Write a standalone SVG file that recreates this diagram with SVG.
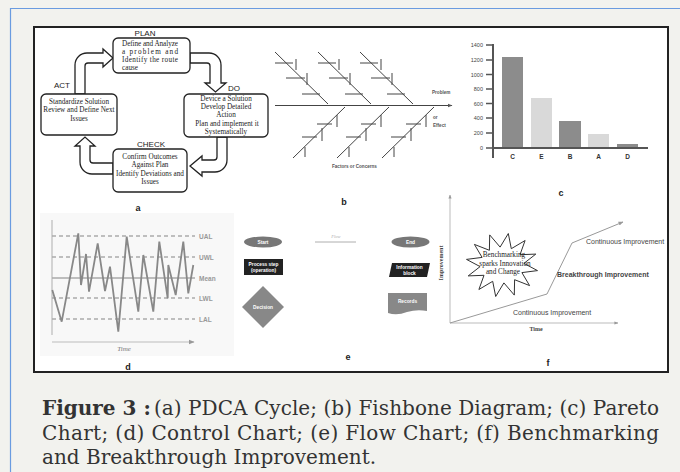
<svg xmlns="http://www.w3.org/2000/svg" width="680" height="472" viewBox="0 0 680 472">
<defs>
<style>
.bg{fill:#f2f2ee}
.box{fill:#fff;stroke:#222;stroke-width:1.3}
.harrow{fill:#fff;stroke:#222;stroke-width:1.3;stroke-linejoin:miter}
.lbl{font-family:"Liberation Sans",Arial,sans-serif;font-size:8px;fill:#222}
.bt{font-family:"Liberation Serif","Times New Roman",serif;font-size:7.2px;fill:#222}
.sub{font-family:"Liberation Sans",Arial,sans-serif;font-size:9px;font-weight:bold;fill:#222;text-anchor:middle}
.fb{stroke:#444;stroke-width:1;fill:none}
.fbt{font-family:"Liberation Sans",Arial,sans-serif;font-size:4.6px;font-weight:bold;fill:#555}
.ax{stroke:#555;stroke-width:2;fill:none}
.pt{font-family:"Liberation Sans",Arial,sans-serif;font-size:5.5px;fill:#444;text-anchor:end}
.px{font-family:"Liberation Sans",Arial,sans-serif;font-size:6.5px;font-weight:bold;fill:#333;text-anchor:middle}
.dark{fill:#8c8c8c}
.light{fill:#d9d9d9}
.cl{stroke:#aaa;stroke-width:1.3;stroke-dasharray:4 3;fill:none}
.cct{font-family:"Liberation Sans",Arial,sans-serif;font-size:6.5px;font-weight:bold;fill:#999}
.fct{font-family:"Liberation Sans",Arial,sans-serif;font-size:4.8px;font-weight:bold;fill:#fff;text-anchor:middle}
.ft{font-family:"Liberation Sans",Arial,sans-serif;font-size:7px;fill:#444}
.cap{font-family:"DejaVu Serif","Liberation Serif",serif;font-size:20px;fill:#333}
</style>
<marker id="ga" viewBox="0 0 10 10" refX="9" refY="5" markerWidth="5" markerHeight="5" orient="auto"><path d="M0 1 L10 5 L0 9 Z" fill="#999"/></marker>
<marker id="da" viewBox="0 0 10 10" refX="9" refY="5" markerWidth="5" markerHeight="5" orient="auto"><path d="M0 1 L10 5 L0 9 Z" fill="#555"/></marker>
</defs>
<rect class="bg" x="0" y="0" width="680" height="472"/>
<path d="M10.5 472 V8.5 H680" fill="none" stroke="#6a9be0" stroke-width="1.2"/>
<rect x="34" y="27" width="634" height="345" fill="#fff" stroke="#222" stroke-width="2"/>

<!-- (a) PDCA -->
<g id="connectors">
<path class="harrow" d="M190 53 H209 A12 12 0 0 1 221 65 V83 H226 L215.5 92 L205 83 H210 V66 A3 3 0 0 0 207 63 H190 Z"/>
<path class="harrow" d="M217 137 V157 A3 3 0 0 1 214 160 H202 V156 L190 166 L202 176 V172 H215 A12 12 0 0 0 227 160 V137 Z"/>
<path class="harrow" d="M113 163 H93 A3 3 0 0 1 90 160 V146 H95 L85 137 L75 146 H80 V162 A12 12 0 0 0 92 174 H113 Z"/>
<path class="harrow" d="M75 94 V65 A12 12 0 0 1 87 53 H103 V49 L113 58 L103 67 V63 H88 A3 3 0 0 0 85 66 V94 Z"/>
</g>
<g id="plan">
<text class="lbl" x="145" y="36" text-anchor="middle">PLAN</text>
<rect class="box" x="113" y="38" width="77" height="35" rx="5"/>
<text class="bt" x="122" y="46" textLength="56" lengthAdjust="spacing">Define and Analyze</text>
<text class="bt" x="122" y="54" textLength="56" lengthAdjust="spacing">a problem and</text>
<text class="bt" x="122" y="62" textLength="56" lengthAdjust="spacing">Identify the route</text>
<text class="bt" x="122" y="70">cause</text>
</g>
<g id="do">
<text class="lbl" x="228" y="91">DO</text>
<rect class="box" x="184" y="94" width="84" height="43" rx="5"/>
<text class="bt" x="226" y="101" text-anchor="middle">Device a Solution</text>
<text class="bt" x="226" y="109" text-anchor="middle">Develop Detailed</text>
<text class="bt" x="226" y="117" text-anchor="middle">Action</text>
<text class="bt" x="227" y="126" text-anchor="middle">Plan and implement it</text>
<text class="bt" x="226" y="134" text-anchor="middle">Systematically</text>
</g>
<g id="check">
<text class="lbl" x="151" y="147" text-anchor="middle">CHECK</text>
<rect class="box" x="113" y="149" width="74" height="43" rx="5"/>
<text class="bt" x="150" y="159" text-anchor="middle">Confirm Outcomes</text>
<text class="bt" x="150" y="167" text-anchor="middle">Against Plan</text>
<text class="bt" x="150" y="176" text-anchor="middle">Identify Deviations and</text>
<text class="bt" x="150" y="184" text-anchor="middle">Issues</text>
</g>
<g id="act">
<text class="lbl" x="62" y="88" text-anchor="middle">ACT</text>
<rect class="box" x="41" y="94" width="76" height="41" rx="5"/>
<text class="bt" x="79" y="104" text-anchor="middle">Standardize Solution</text>
<text class="bt" x="79" y="112" text-anchor="middle">Review and Define Next</text>
<text class="bt" x="79" y="121" text-anchor="middle">Issues</text>
</g>
<text class="sub" x="138" y="211">a</text>

<!-- (b) Fishbone -->
<g id="fishbone">
<line class="fb" x1="275" y1="105.5" x2="452" y2="105.5" marker-end="url(#da)"/>
<path class="fb" d="M275 52 L328 104 M275 63 H293 M296 59 V70 M286 78 H305 M307 73 V85 M302 94 H320"/>
<path class="fb" d="M318 52 L371 104 M318 63 H336 M339 59 V70 M329 78 H348 M350 73 V85 M345 94 H363"/>
<path class="fb" d="M360 52 L413 104 M360 63 H378 M381 59 V70 M371 78 H390 M392 73 V85 M387 94 H405"/>
<path class="fb" d="M293 158 L345 107 M317 124 H332 M337 115 V127 M302 137 H317 M322 128 V141 M305 147 V157"/>
<path class="fb" d="M337 158 L389 107 M361 124 H376 M381 115 V127 M346 137 H361 M366 128 V141 M349 147 V157"/>
<path class="fb" d="M382 158 L434 107 M406 124 H421 M426 115 V127 M391 137 H406 M411 128 V141 M394 147 V157"/>
<text class="fbt" x="432" y="94">Problem</text>
<text class="fbt" x="433" y="119">or</text>
<text class="fbt" x="433" y="127">Effect</text>
<text class="fbt" x="332" y="168">Factors or Concerns</text>
</g>
<text class="sub" x="344" y="205">b</text>

<!-- (c) Pareto -->
<g id="pareto">
<rect class="dark" x="502" y="57" width="21" height="91"/>
<rect class="light" x="531" y="98" width="21" height="50"/>
<rect class="dark" x="559" y="121" width="22" height="27"/>
<rect class="light" x="588" y="134" width="21" height="14"/>
<rect class="dark" x="617" y="144" width="21" height="4"/>
<path class="ax" d="M493 44 V158 M493 148 H648"/>
<path stroke="#555" stroke-width="1.5" d="M486 45 H493 M486 60 H493 M486 74.5 H493 M486 89 H493 M486 103.5 H493 M486 118 H493 M486 133 H493 M486 148 H493"/>
<text class="pt" x="483" y="47">1400</text>
<text class="pt" x="483" y="62">1200</text>
<text class="pt" x="483" y="76.5">1000</text>
<text class="pt" x="483" y="91">800</text>
<text class="pt" x="483" y="105.5">600</text>
<text class="pt" x="483" y="120">400</text>
<text class="pt" x="483" y="135">200</text>
<text class="pt" x="483" y="150">0</text>
<text class="px" x="512.5" y="158.5">C</text>
<text class="px" x="541.5" y="158.5">E</text>
<text class="px" x="570" y="158.5">B</text>
<text class="px" x="598.5" y="158.5">A</text>
<text class="px" x="627.5" y="158.5">D</text>
</g>
<text class="sub" x="561" y="196">c</text>

<!-- (d) Control chart -->
<g id="control">
<rect x="40" y="213" width="194" height="143" fill="#f8f8f8"/>
<line x1="52" y1="220" x2="52" y2="335" stroke="#bbb" stroke-width="1.2"/>
<line x1="52" y1="342" x2="194" y2="342" stroke="#bbb" stroke-width="1.2" marker-end="url(#ga)"/>
<line class="cl" x1="52" y1="236" x2="195" y2="236"/>
<line class="cl" x1="52" y1="257" x2="195" y2="257"/>
<line x1="52" y1="278" x2="195" y2="278" stroke="#aaa" stroke-width="1.3"/>
<line class="cl" x1="52" y1="298" x2="195" y2="298"/>
<line class="cl" x1="52" y1="319" x2="195" y2="319"/>
<polyline fill="none" stroke="#888" stroke-width="1.8" stroke-linejoin="miter" points="52.3,290 61.7,321.7 78.3,233.3 81,285 86,254 89,291.7 97.7,243.3 105,291 110,266.7 118.3,331.7 126.7,236.7 138.3,311.7 143.3,255 153.3,311.7 159.3,241.7 167.7,298.3 168.3,265 175.7,295 183.3,241.7 188.3,293.3 193.3,265"/>
<text class="cct" x="199" y="238.5">UAL</text>
<text class="cct" x="199" y="259.5">UWL</text>
<text class="cct" x="199" y="280.5">Mean</text>
<text class="cct" x="199" y="300.5">LWL</text>
<text class="cct" x="199" y="321.5">LAL</text>
<text x="124" y="351" font-family="Liberation Serif,serif" font-style="italic" font-size="7px" fill="#777" text-anchor="middle">Time</text>
</g>
<text class="sub" x="128" y="370">d</text>

<!-- (e) Flow chart -->
<g id="start"><ellipse cx="263" cy="242" rx="19" ry="5.5" fill="#777"/><text class="fct" x="263" y="243.8">Start</text></g>
<g id="flow"><line x1="315" y1="242" x2="356" y2="242" stroke="#999" stroke-width="0.8"/><text x="336" y="237.5" font-family="Liberation Serif,serif" font-style="italic" font-size="4.5px" fill="#aaa" text-anchor="middle">Flow</text></g>
<g id="end"><ellipse cx="410.5" cy="242" rx="19" ry="5.5" fill="#777"/><text class="fct" x="410.5" y="243.8">End</text></g>
<g id="process"><rect x="244" y="259" width="39" height="16" fill="#222"/><text class="fct" x="263.5" y="266">Process step</text><text class="fct" x="263.5" y="272">(operation)</text></g>
<g id="information"><path d="M392 263 H430 L427 277 H389 Z" fill="#222"/><text class="fct" x="409.5" y="269">Information</text><text class="fct" x="409.5" y="275">block</text></g>
<g id="decision"><path d="M263 286 L284 307 L263 328 L242 307 Z" fill="#888"/><text class="fct" x="263" y="309">Decision</text></g>
<g id="records"><path d="M388 293 H427 V311 Q417 309 407 312 Q397 316 388 313 Z" fill="#888"/><text class="fct" x="407.5" y="303">Records</text></g>
<text class="sub" x="348" y="360">e</text>

<!-- (f) Benchmarking -->
<g id="benchmark">
<line x1="450" y1="323" x2="450" y2="195" stroke="#aaa" stroke-width="0.8" marker-end="url(#ga)"/>
<line x1="450" y1="323" x2="618" y2="323" stroke="#aaa" stroke-width="0.8" marker-end="url(#ga)"/>
<polyline points="450,323 547,294 572,243 623,222" fill="none" stroke="#999" stroke-width="1" marker-end="url(#ga)"/>
<text x="443" y="263" transform="rotate(-90 443 263)" font-family="Liberation Serif,serif" font-weight="bold" font-size="6px" fill="#444" text-anchor="middle">Improvement</text>
<text x="536" y="331" font-family="Liberation Serif,serif" font-weight="bold" font-size="6px" fill="#444" text-anchor="middle">Time</text>
<polygon points="508.3,233.5 511.3,248.7 525.1,240.5 520,254.7 535.8,254.1 523.9,263.4 537.5,270.6 521.9,272.6 529.6,285.6 514.6,279.7 514.3,295.1 503.9,282.9 495.7,296.5 492.7,281.3 478.9,289.5 484,275.3 468.2,275.9 480.1,266.6 466.5,259.4 482.1,257.4 474.4,244.4 489.4,250.3 489.7,234.9 500.1,247.1" fill="#fff" stroke="#333" stroke-width="1"/>
<text class="bt" x="504" y="257" text-anchor="middle" fill="#555">Benchmarking</text>
<text class="bt" x="505" y="266" text-anchor="middle" fill="#555">sparks Innovation</text>
<text class="bt" x="503" y="274" text-anchor="middle" fill="#555">and Change</text>
<text class="ft" x="586" y="243.5">Continuous Improvement</text>
<text class="ft" x="557" y="276.5" font-weight="bold" fill="#222">Breakthrough Improvement</text>
<text class="ft" x="513" y="314.5">Continuous Improvement</text>
</g>
<text class="sub" x="548" y="366">f</text>

<!-- Caption -->
<text class="cap" x="42" y="415" font-weight="bold">Figure 3 :</text>
<text class="cap" x="154" y="415" textLength="505" lengthAdjust="spacing">(a) PDCA Cycle; (b) Fishbone Diagram; (c) Pareto</text>
<text class="cap" x="42" y="440" textLength="617" lengthAdjust="spacing">Chart; (d) Control Chart; (e) Flow Chart; (f) Benchmarking</text>
<text class="cap" x="42" y="464">and Breakthrough Improvement.</text>
</svg>
